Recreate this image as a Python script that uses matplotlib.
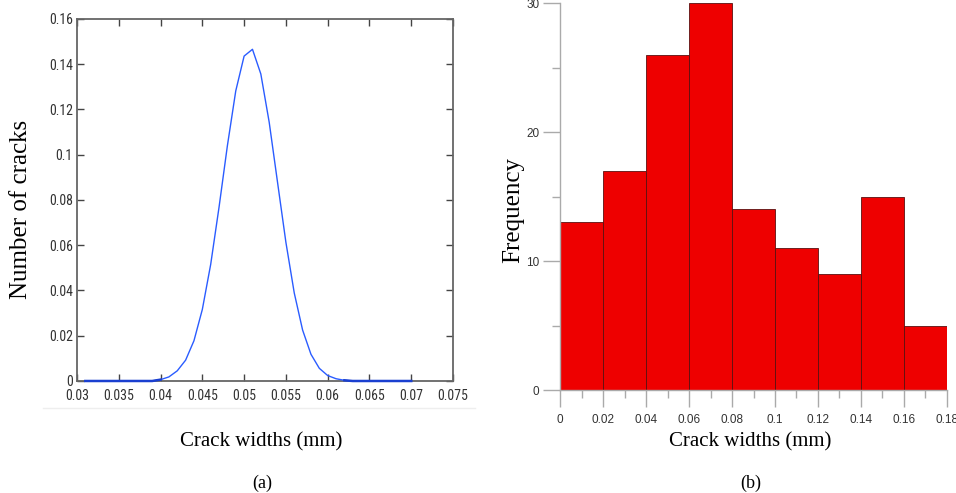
import matplotlib
matplotlib.use("Agg")
import matplotlib.pyplot as plt
from matplotlib.lines import Line2D
from matplotlib.ticker import MultipleLocator, FixedLocator
from matplotlib import font_manager
from matplotlib.font_manager import FontProperties

# ---- data: panel (a) distribution curve ----
crack_width_a = [0.031, 0.032, 0.033, 0.034, 0.035, 0.036, 0.037, 0.038, 0.039,
                 0.040, 0.041, 0.042, 0.043, 0.044, 0.045, 0.046, 0.047, 0.048,
                 0.049, 0.050, 0.051, 0.052, 0.053, 0.054, 0.055, 0.056, 0.057,
                 0.058, 0.059, 0.060, 0.061, 0.062, 0.063, 0.064, 0.065, 0.066,
                 0.067, 0.068, 0.069, 0.070]
num_cracks_a = [0.0, 0.0, 0.0, 0.0, 0.0, 0.0, 0.0, 0.0, 0.0,
                0.0006, 0.0018, 0.0045, 0.0092, 0.0178, 0.0316, 0.0515, 0.0768, 0.1040,
                0.1282, 0.1436, 0.1466, 0.1357, 0.1144, 0.0878, 0.0613, 0.0389, 0.0225,
                0.0118, 0.0056, 0.0024, 0.0010, 0.0003, 0.0, 0.0, 0.0, 0.0,
                0.0, 0.0, 0.0, 0.0]
xticks_a = [0.03, 0.035, 0.04, 0.045, 0.05, 0.055, 0.06, 0.065, 0.07, 0.075]
xticklabels_a = ["0.03", "0.035", "0.04", "0.045", "0.05", "0.055", "0.06", "0.065", "0.07", "0.075"]
yticks_a = [0, 0.02, 0.04, 0.06, 0.08, 0.1, 0.12, 0.14, 0.16]
yticklabels_a = ["0", "0.02", "0.04", "0.06", "0.08", "0.1", "0.12", "0.14", "0.16"]

# ---- data: panel (b) histogram ----
bin_edges_b = [0.0, 0.02, 0.04, 0.06, 0.08, 0.10, 0.12, 0.14, 0.16, 0.18]
frequency_b = [13, 17, 26, 30, 14, 11, 9, 15, 5]
xticks_b = [0, 0.02, 0.04, 0.06, 0.08, 0.1, 0.12, 0.14, 0.16, 0.18]
xticklabels_b = ["0", "0.02", "0.04", "0.06", "0.08", "0.1", "0.12", "0.14", "0.16", "0.18"]
yticks_b = [0, 10, 20, 30]

xlabel_text = "Crack widths (mm)"
ylabel_a = "Number of cracks"
ylabel_b = "Frequency"

serif = ["Liberation Serif", "DejaVu Serif"]
sans = ["Liberation Sans", "DejaVu Sans"]

# pick a condensed sans for MATLAB-like tick labels, if one is installed
def pick_narrow():
    fl = font_manager.fontManager.ttflist
    names = {f.name for f in fl}
    for nm in ["Liberation Sans Narrow", "Roboto Condensed", "Open Sans Condensed"]:
        if nm in names:
            return FontProperties(family=nm, size=10)
    for f in fl:
        if f.name == "DejaVu Sans" and f.stretch in ("condensed", 87.5, 75) \
                and f.weight in ("normal", 400) and f.style == "normal":
            return FontProperties(fname=f.fname, size=9.5)
    return FontProperties(family="Liberation Sans", size=8.5)

narrow_fp = pick_narrow()

fig = plt.figure(figsize=(9.56, 4.93), dpi=100)

# ================= panel (a) =================
ax1 = fig.add_axes([0.0805, 0.2272, 0.3934, 0.7343])
ax1.plot(crack_width_a, num_cracks_a, color="#2a5cff", lw=1.0, clip_on=False, zorder=5)
ax1.plot(crack_width_a[:10], num_cracks_a[:10], color="#1a3fd0", lw=1.8, clip_on=False, zorder=5)
ax1.plot(crack_width_a[31:], num_cracks_a[31:], color="#1a3fd0", lw=1.8, clip_on=False, zorder=5)
ax1.set_xlim(0.03, 0.075)
ax1.set_ylim(0, 0.16)
ax1.xaxis.set_major_locator(FixedLocator(xticks_a))
ax1.set_xticklabels(xticklabels_a)
ax1.yaxis.set_major_locator(FixedLocator(yticks_a))
ax1.set_yticklabels(yticklabels_a)
ax1.tick_params(direction="in", length=5, width=1.0, color="#444444",
                top=True, right=True, labelcolor="#333333", pad=3)
ax1.tick_params(axis="x", pad=6)
for lab in ax1.get_xticklabels() + ax1.get_yticklabels():
    lab.set_fontproperties(narrow_fp)
for sp in ax1.spines.values():
    sp.set_color("#666666")
    sp.set_linewidth(1.3)

fig.text(0.022, 0.575, ylabel_a, rotation=90, ha="center", va="center",
         family=serif, fontsize=18)
fig.text(0.273, 0.104, xlabel_text, ha="center", va="center", family=serif, fontsize=15)
fig.text(0.274, 0.02, "(a)", ha="center", va="center", family=serif, fontsize=13)
# faint separator line under panel (a)
fig.add_artist(Line2D([0.045, 0.497], [0.172, 0.172], transform=fig.transFigure,
                      color="#eeeeee", lw=1.0))

# ================= panel (b) =================
ax2 = fig.add_axes([0.5861, 0.2089, 0.4042, 0.7850])
widths = [bin_edges_b[i + 1] - bin_edges_b[i] for i in range(len(frequency_b))]
ax2.bar(bin_edges_b[:-1], frequency_b, width=widths, align="edge",
        color="#ee0000", edgecolor="#5a1010", linewidth=0.6)
ax2.set_xlim(0, 0.18)
ax2.set_ylim(0, 30)
ax2.xaxis.set_major_locator(FixedLocator(xticks_b))
ax2.set_xticklabels(xticklabels_b)
ax2.xaxis.set_minor_locator(MultipleLocator(0.01))
ax2.yaxis.set_major_locator(FixedLocator(yticks_b))
ax2.yaxis.set_minor_locator(MultipleLocator(5))
ax2.tick_params(which="major", direction="out", length=12, width=1.0, color="#aaaaaa",
                labelsize=8.5, labelcolor="#333333")
ax2.tick_params(axis="x", which="major", pad=5)
ax2.tick_params(axis="y", which="major", pad=3)
ax2.tick_params(which="minor", direction="out", length=6, width=1.0, color="#aaaaaa")
for lab in ax2.get_xticklabels() + ax2.get_yticklabels():
    lab.set_family(sans)
for s in ["top", "right"]:
    ax2.spines[s].set_visible(False)
for s in ["left", "bottom"]:
    ax2.spines[s].set_color("#aaaaaa")
    ax2.spines[s].set_linewidth(1.0)

fig.text(0.537, 0.575, ylabel_b, rotation=90, ha="center", va="center",
         family=serif, fontsize=18)
fig.text(0.785, 0.104, xlabel_text, ha="center", va="center", family=serif, fontsize=15)
fig.text(0.785, 0.02, "(b)", ha="center", va="center", family=serif, fontsize=13)

fig.savefig("out.png", dpi=100)
